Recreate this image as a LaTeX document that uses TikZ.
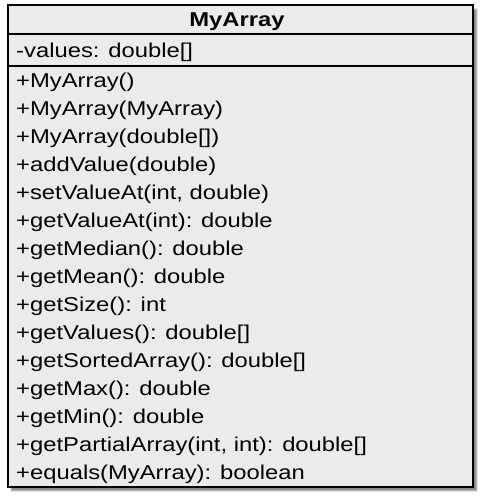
\documentclass[tikz,border=0pt]{standalone}
\usepackage{fontspec}
\setmainfont{Liberation Sans}[FakeStretch=1.19]
\definecolor{boxgray}{HTML}{EBEBEB}
\begin{document}
\begin{tikzpicture}[x=1pt,y=-1pt,
  member/.style={anchor=base west, inner sep=0pt, font=\fontsize{20}{24}\selectfont},
  title/.style={anchor=base, inner sep=0pt, font=\fontsize{20}{24}\selectfont\bfseries},
  classbox/.style={draw=black, line width=2pt, fill=boxgray, minimum width=465pt, minimum height=482pt, inner sep=0pt},
  sep/.style={line width=2pt}]
\useasboundingbox (0,0) rectangle (480,498);
% shadow
\fill[black, opacity=0.12] (10,8) rectangle (478,492);
\fill[black, opacity=0.18] (11,9) rectangle (477,491);
\fill[black, opacity=0.25] (12,10) rectangle (476,490);
\node[classbox] (box) at (240.5,246) {};
\coordinate (s1l) at (8,34); \coordinate (s1r) at (473,34);
\coordinate (s2l) at (8,66); \coordinate (s2r) at (473,66);
\draw[sep] (s1l) -- (s1r);
\draw[sep] (s2l) -- (s2r);
\node[title] (name) at (237,26) {MyArray};
\node[member] (a1) at (16,57) {-values: double[]};
\node[member] (m1) at (16,87) {+MyArray()};
\node[member] (m2) at (16,115) {+MyArray(MyArray)};
\node[member] (m3) at (16,143) {+MyArray(double[])};
\node[member] (m4) at (16,171) {+addValue(double)};
\node[member] (m5) at (16,199) {+setValueAt(int, double)};
\node[member] (m6) at (16,227) {+getValueAt(int): double};
\node[member] (m7) at (16,255) {+getMedian(): double};
\node[member] (m8) at (16,283) {+getMean(): double};
\node[member] (m9) at (16,311) {+getSize(): int};
\node[member] (m10) at (16,339) {+getValues(): double[]};
\node[member] (m11) at (16,367) {+getSortedArray(): double[]};
\node[member] (m12) at (16,395) {+getMax(): double};
\node[member] (m13) at (16,423) {+getMin(): double};
\node[member] (m14) at (16,451) {+getPartialArray(int, int): double[]};
\node[member] (m15) at (16,479) {+equals(MyArray): boolean};
\end{tikzpicture}
\end{document}
